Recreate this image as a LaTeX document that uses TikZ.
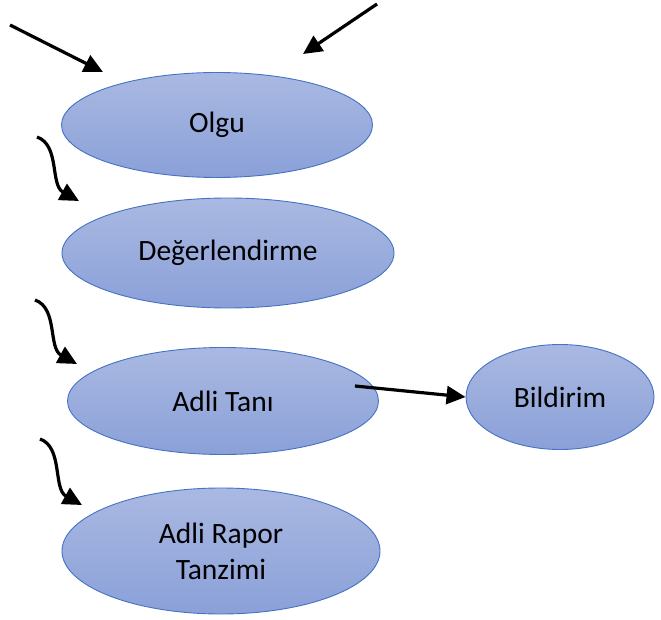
\documentclass[tikz,border=0pt]{standalone}
\usepackage{fontspec}
\setmainfont{Carlito}
\usetikzlibrary{shapes.geometric,arrows.meta}
\definecolor{ovaltop}{RGB}{170,185,226}
\definecolor{ovalbot}{RGB}{138,160,216}
\definecolor{ovalline}{RGB}{68,114,196}

\begin{document}
\begin{tikzpicture}[x=1pt,y=-1pt,
                oval/.style={ellipse,draw=ovalline,line width=0.9pt,top color=ovaltop,bottom color=ovalbot,inner sep=0pt,align=center,font=\fontsize{29.5}{36}\selectfont},
                pil/.style={line width=3.2pt,-{Triangle[length=19pt,width=18pt]}}
                ]
                \useasboundingbox (0,0) rectangle (661,620);
                % ovals
                \node [oval,minimum width=311pt,minimum height=105pt] (olgu) at (217,125) {Olgu};
                \node [oval,minimum width=332pt,minimum height=110pt] (deger) at (228,253) {Değerlendirme};
                \node [oval,minimum width=311pt,minimum height=107pt] (tani) at (223,401) {Adli Tanı};
                \node [oval,minimum width=188pt,minimum height=105pt] (bildirim) at (560,397) {Bildirim};
                \node [oval,minimum width=318pt,minimum height=126pt] (rapor) at (221,551) {Adli Rapor\\Tanzimi};
                % free ends of the arrows
                \coordinate (in1) at (10,25);
                \coordinate (in1e) at (103,72);
                \coordinate (in2) at (377,4);
                \coordinate (in2e) at (303,54);
                \coordinate (s1) at (37,137);
                \coordinate (s1e) at (79,201);
                \coordinate (s2) at (35,300);
                \coordinate (s2e) at (77,364);
                \coordinate (s3) at (40,439);
                \coordinate (s3e) at (82,505);
                \coordinate (t1) at (355,386);
                % arrows
                \draw [pil] (in1) -- (in1e);
                \draw [pil] (in2) -- (in2e);
                \draw [pil] (s1) .. controls +(23,8) and +(-29,-16) .. (s1e);
                \draw [pil] (s2) .. controls +(23,8) and +(-29,-16) .. (s2e);
                \draw [pil] (s3) .. controls +(23,8) and +(-29,-16) .. (s3e);
                \draw [pil] (t1) -- (bildirim.west);
            \end{tikzpicture}
\end{document}
